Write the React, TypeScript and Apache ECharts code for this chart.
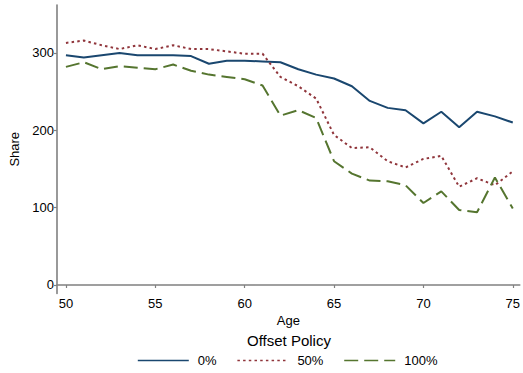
import React, { useEffect, useRef } from "react";
import * as echarts from "echarts";

const ages = [50,51,52,53,54,55,56,57,58,59,60,61,62,63,64,65,66,67,68,69,70,71,72,73,74,75];
const offset0 = [297,294,297,300,297,297,297,296,286,290,290,289,288,279,272,267,257,238,229,226,209,224,204,224,218,210];
const offset50 = [313,316,310,305,310,305,310,305,305,302,299,299,269,257,241,194,177,178,160,152,163,167,127,138,129,147];
const offset100 = [282,288,279,283,281,279,285,277,272,269,266,258,219,226,216,160,144,135,134,129,106,121,97,94,139,99];
const xTicks = [50,55,60,65,70,75];
const yTicks = [0,100,200,300];
const seriesNames = ["0%", "50%", "100%"];

const FONT = "'Liberation Sans', Arial, sans-serif";
const AXIS_COLOR = "#808080";

export default function App() {
  const ref = useRef<HTMLDivElement>(null);
  useEffect(() => {
    if (!ref.current) return;
    const chart = echarts.init(ref.current, undefined, { renderer: "svg" });
    const toPairs = (vals: number[]) => ages.map((a, i) => [a, vals[i]]);
    chart.setOption({
      animation: false,
      backgroundColor: "#ffffff",
      textStyle: { fontFamily: FONT },
      grid: { left: 56, right: 0, top: 5, bottom: 79.5, containLabel: false },
      xAxis: {
        type: "value",
        min: 49.5,
        max: 75.39,
        name: "Age",
        nameLocation: "middle",
        nameGap: 13,
        nameTextStyle: { color: "#000", fontSize: 13, fontFamily: FONT },
        axisLine: { show: true, lineStyle: { color: AXIS_COLOR, width: 1.6 } },
        axisTick: { show: true, length: 3, customValues: xTicks, lineStyle: { color: AXIS_COLOR, width: 1.2 } },
        axisLabel: { customValues: xTicks, color: "#000", fontSize: 13, fontFamily: FONT, margin: 3 },
        splitLine: { show: false },
      },
      yAxis: {
        type: "value",
        min: -11,
        max: 362,
        name: "Share",
        nameLocation: "middle",
        nameGap: 36,
        nameTextStyle: { color: "#000", fontSize: 13, fontFamily: FONT },
        axisLine: { show: true, lineStyle: { color: AXIS_COLOR, width: 1.6 } },
        axisTick: { show: true, length: 3, customValues: yTicks, lineStyle: { color: AXIS_COLOR, width: 1.2 } },
        axisLabel: { customValues: yTicks, color: "#000", fontSize: 13, fontFamily: FONT, margin: 3 },
        splitLine: { show: false },
      },
      legend: {
        left: 137,
        top: 354,
        padding: 0,
        itemWidth: 51,
        itemHeight: 14,
        itemGap: 20,
        data: seriesNames,
        itemStyle: { opacity: 0 },
        lineStyle: { width: 1.6 },
        textStyle: { color: "#000", fontSize: 13, fontFamily: FONT, padding: [0, 0, 0, 4] },
      },
      graphic: [
        {
          type: "text",
          left: 290 - 43,
          top: 333,
          style: { text: "Offset Policy", fill: "#000", font: `15px ${FONT}` },
        },
      ],
      series: [
        {
          name: seriesNames[0],
          type: "line",
          symbol: "none",
          data: toPairs(offset0),
          lineStyle: { color: "#1a476f", width: 2 },
          itemStyle: { color: "#1a476f" },
        },
        {
          name: seriesNames[1],
          type: "line",
          symbol: "none",
          data: toPairs(offset50),
          lineStyle: { color: "#90353b", width: 2, type: [2.5, 3.2] },
          itemStyle: { color: "#90353b" },
        },
        {
          name: seriesNames[2],
          type: "line",
          symbol: "none",
          data: toPairs(offset100),
          lineStyle: { color: "#55752f", width: 2, type: [14, 6] },
          itemStyle: { color: "#55752f" },
        },
      ],
    });
    return () => chart.dispose();
  }, []);
  return <div ref={ref} style={{ width: 523, height: 373, position: "absolute", left: 0, top: 0 }} />;
}
